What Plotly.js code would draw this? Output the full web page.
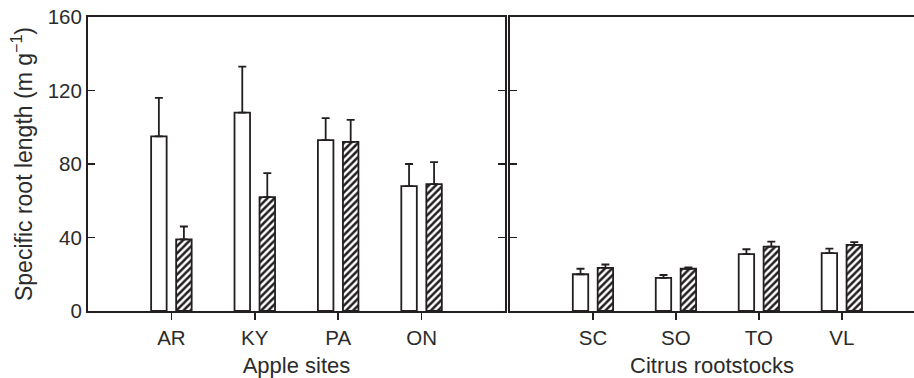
<!DOCTYPE html>
<html>
<head>
<meta charset="utf-8">
<script src="https://cdn.plot.ly/plotly-3.0.1.min.js"></script>
<style>html,body{margin:0;padding:0;background:#fff;}#chart{width:914px;height:378px;}</style>
</head>
<body>
<div id="chart"></div>
<script>
const appleSites = ['AR', 'KY', 'PA', 'ON'];
const appleOpen = [95, 108, 93, 68];
const appleOpenErr = [21, 25, 12, 12];
const appleHatched = [39, 62, 92, 69];
const appleHatchedErr = [7, 13, 12, 12];

const citrusRootstocks = ['SC', 'SO', 'TO', 'VL'];
const citrusOpen = [20, 18, 31, 31.5];
const citrusOpenErr = [3, 1.6, 2.6, 2.4];
const citrusHatched = [23.5, 23, 35, 36];
const citrusHatchedErr = [1.8, 0.7, 2.8, 1.5];

const yTicks = [0, 40, 80, 120, 160];

const ink = '#231f20';
const textInk = '#2b2b2b';
const zeros = n => n.map(() => 0);

function openBar(x, y, err, xa, ya) {
  return {
    type: 'bar', x: x, y: y, xaxis: xa, yaxis: ya, showlegend: false,
    marker: {color: '#ffffff', line: {color: ink, width: 1.8}},
    error_y: {type: 'data', symmetric: false, array: err, arrayminus: zeros(err),
              color: ink, thickness: 1.8, width: 4}
  };
}
function hatchBar(x, y, err, xa, ya) {
  return {
    type: 'bar', x: x, y: y, xaxis: xa, yaxis: ya, showlegend: false,
    marker: {color: '#ffffff', line: {color: ink, width: 1.8},
             pattern: {shape: '/', fgcolor: ink, bgcolor: '#ffffff', size: 5, solidity: 0.5}},
    error_y: {type: 'data', symmetric: false, array: err, arrayminus: zeros(err),
              color: ink, thickness: 1.8, width: 4}
  };
}

const data = [
  openBar(appleSites, appleOpen, appleOpenErr, 'x', 'y'),
  hatchBar(appleSites, appleHatched, appleHatchedErr, 'x', 'y'),
  openBar(citrusRootstocks, citrusOpen, citrusOpenErr, 'x2', 'y2'),
  hatchBar(citrusRootstocks, citrusHatched, citrusHatchedErr, 'x2', 'y2')
];

const tickFnt = {family: 'Liberation Sans, Arial, sans-serif', size: 20.5, color: textInk};
const titleFnt = {family: 'Liberation Sans, Arial, sans-serif', size: 22, color: textInk};
const yTitleFnt = {family: 'Liberation Sans, Arial, sans-serif', size: 23, color: textInk};

const layout = {
  width: 914, height: 378,
  margin: {l: 88, r: 0, t: 17, b: 67},
  paper_bgcolor: '#ffffff', plot_bgcolor: '#ffffff',
  font: tickFnt,
  barmode: 'group', bargap: 0.4, bargroupgap: 0.38,
  showlegend: false,
  xaxis: {
    domain: [0, 0.5048], range: [-1, 4], type: 'category',
    showgrid: false, zeroline: false,
    showline: true, linecolor: ink, linewidth: 2, mirror: true,
    ticks: 'outside', ticklen: 7, tickwidth: 1.5, tickcolor: ink,
    tickfont: tickFnt,
    title: {text: 'Apple sites', font: titleFnt, standoff: 10}
  },
  yaxis: {
    domain: [0, 1], range: [0, 160], tickvals: yTicks,
    showgrid: false, zeroline: false,
    showline: true, linecolor: ink, linewidth: 2, mirror: 'ticks',
    ticks: 'inside', ticklen: 7, tickwidth: 1.5, tickcolor: ink,
    tickfont: tickFnt,
    title: {text: 'Specific root length (m g<sup>\u22121</sup>)', font: yTitleFnt, standoff: 9}
  },
  xaxis2: {
    domain: [0.5109, 1], range: [-1, 3.87], type: 'category', anchor: 'y2',
    showgrid: false, zeroline: false,
    showline: true, linecolor: ink, linewidth: 2, mirror: true,
    ticks: 'outside', ticklen: 7, tickwidth: 1.5, tickcolor: ink,
    tickfont: tickFnt,
    title: {text: 'Citrus rootstocks', font: titleFnt, standoff: 10}
  },
  yaxis2: {
    domain: [0, 1], range: [0, 160], tickvals: yTicks, anchor: 'x2',
    showgrid: false, zeroline: false,
    showline: true, linecolor: ink, linewidth: 2,
    ticks: 'inside', ticklen: 7, tickwidth: 1.5, tickcolor: ink,
    showticklabels: false
  }
};

Plotly.newPlot('chart', data, layout, {displayModeBar: false, staticPlot: true});
</script>
</body>
</html>
